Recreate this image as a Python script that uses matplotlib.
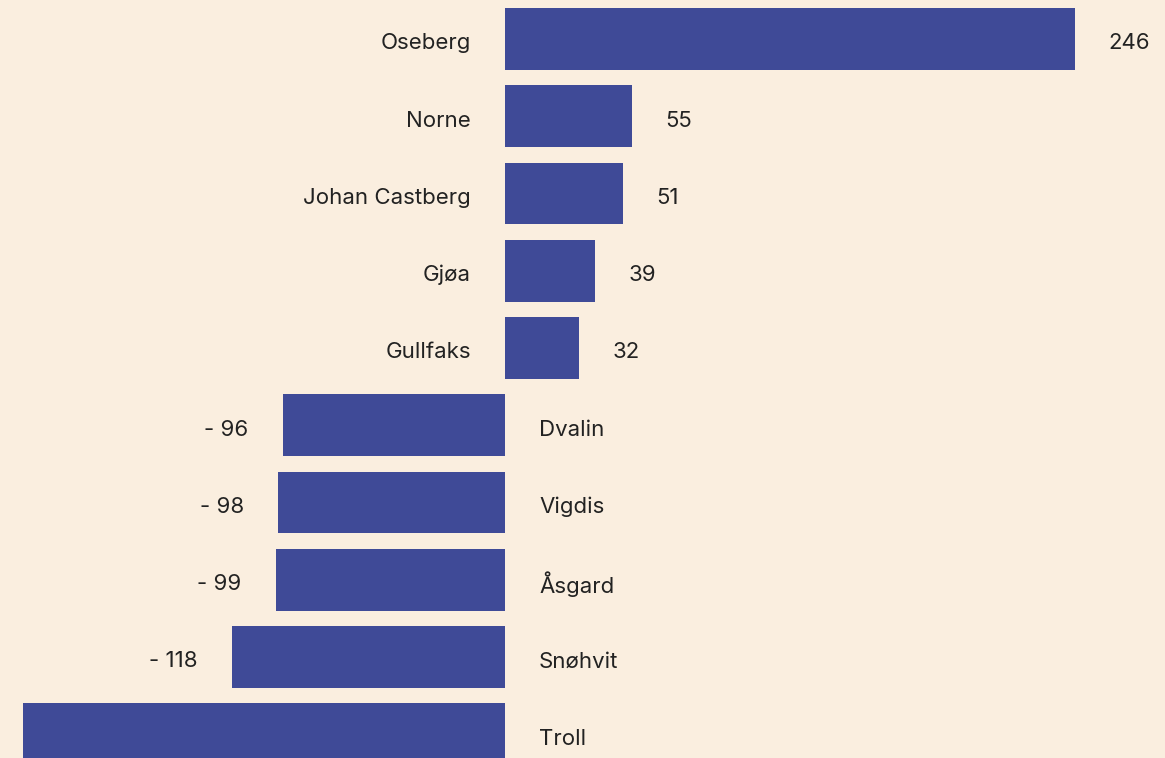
import matplotlib
matplotlib.use("Agg")
import matplotlib.pyplot as plt

fields = ["Oseberg", "Norne", "Johan Castberg", "Gjøa", "Gullfaks",
          "Dvalin", "Vigdis", "Åsgard", "Snøhvit", "Troll"]
values = [246, 55, 51, 39, 32, -96, -98, -99, -118, -208]

BG = "#FAEEDF"
BAR = "#3F4A97"
TXT = "#222222"

plt.rcParams['font.family'] = ['Inter', 'DejaVu Sans']

fig = plt.figure(figsize=(11.65, 7.58), dpi=100, facecolor=BG)
ax = fig.add_axes([0, 0, 1, 1], facecolor=BG)

y = list(range(len(fields)))
ax.barh(y, values, height=0.80, color=BAR)

scale = 570 / 246.0  # px per unit
x0 = 505
xmin = -x0 / scale
xmax = (1165 - x0) / scale
ax.set_xlim(xmin, xmax)
ax.set_ylim((758 - 39) / 77.25, -39 / 77.25)

off = 34 / scale
fs = 16
dy = 0.03
for yi, name, v in zip(y, fields, values):
    if v >= 0:
        ax.text(-off, yi + dy, name, ha='right', va='center_baseline', fontsize=fs, color=TXT)
        ax.text(v + off - 1 / scale, yi + dy, f"{v}", ha='left', va='center_baseline', fontsize=fs, color=TXT)
    else:
        ax.text(off, yi + dy, name, ha='left', va='center_baseline', fontsize=fs, color=TXT)
        lx = v - off
        if lx > xmin + 40 / scale:
            ax.text(lx, yi + dy, f"- {abs(v)}", ha='right', va='center_baseline', fontsize=fs, color=TXT)

ax.axis('off')
fig.savefig("out.png", dpi=100, facecolor=BG)
